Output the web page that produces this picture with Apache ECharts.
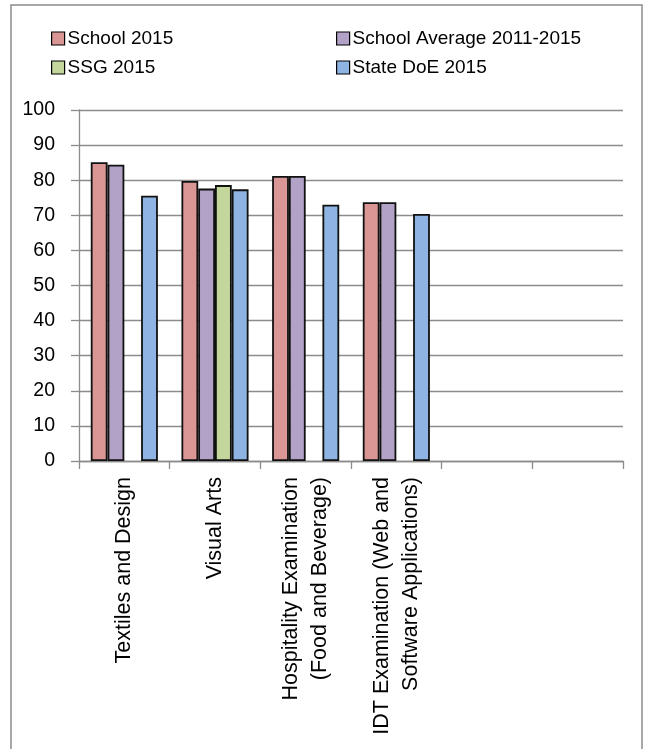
<!DOCTYPE html>
<html>
<head>
<meta charset="utf-8">
<script src="https://cdn.jsdelivr.net/npm/echarts@6/dist/echarts.min.js"></script>
<style>html,body{margin:0;padding:0;background:#fff;}#c{width:651px;height:749px;}</style>
</head>
<body>
<div id="c"></div>
<script>
var categories = ['Textiles and Design', 'Visual Arts', 'Hospitality Examination\n(Food and Beverage)', 'IDT Examination (Web and\nSoftware Applications)', '', ''];
var school2015 = [85.1, 79.8, 81.2, 73.7, null, null];
var schoolAvg = [84.4, 77.6, 81.2, 73.7, null, null];
var ssg2015 = [null, 78.6, null, null, null, null];
var stateDoE = [75.6, 77.4, 73.0, 70.4, null, null];
var yTicks = {min: 0, max: 100, interval: 10};

var seriesNames = ['School 2015', 'School Average 2011-2015', 'SSG 2015', 'State DoE 2015'];
var seriesData = [school2015, schoolAvg, ssg2015, stateDoE];
var colors = ['#D99694', '#B3A2C7', '#C3D69B', '#8EB4E3'];
var FONT = 'Liberation Sans';

var legendPos = [[51, 29], [336, 29], [51, 58], [336, 58]];
var legends = seriesNames.map(function (n, i) {
  return {
    data: [n], left: legendPos[i][0], top: legendPos[i][1], padding: 0,
    itemWidth: 13, itemHeight: 13, itemGap: 0,
    icon: 'rect',
    itemStyle: {borderColor: '#000', borderWidth: 1.2},
    textStyle: {fontFamily: FONT, fontSize: 19, color: '#000', padding: [0, 0, 0, -2]}
  };
});

var chart = echarts.init(document.getElementById('c'));
chart.setOption({
  animation: false,
  backgroundColor: '#fff',
  color: colors,
  legend: legends,
  graphic: [{
    type: 'rect', shape: {x: 11, y: 5, width: 631, height: 760},
    style: {fill: 'none', stroke: '#8c8c8c', lineWidth: 1.5}, silent: true
  }],
  grid: {left: 79, right: 28, top: 110, bottom: 288, containLabel: false},
  xAxis: {
    type: 'category', data: categories,
    axisLine: {lineStyle: {color: '#8c8c8c', width: 1.3}},
    axisTick: {show: true, length: 8, lineStyle: {color: '#8c8c8c', width: 1.3}},
    axisLabel: {interval: 0, rotate: 90, margin: 16, fontFamily: FONT, fontSize: 21.5, color: '#000', lineHeight: 29}
  },
  yAxis: {
    type: 'value', min: yTicks.min, max: yTicks.max, interval: yTicks.interval,
    axisLine: {show: true, lineStyle: {color: '#8c8c8c', width: 1.3}},
    axisTick: {show: true, length: 8, lineStyle: {color: '#8c8c8c', width: 1.3}},
    splitLine: {lineStyle: {color: '#8c8c8c', width: 1.3}},
    axisLabel: {margin: 24, fontFamily: FONT, fontSize: 19.5, color: '#000'}
  },
  series: seriesNames.map(function (n, i) {
    return {
      name: n, type: 'bar', data: seriesData[i],
      barGap: '0%', barCategoryGap: '26%',
      itemStyle: {color: colors[i], borderColor: '#111', borderWidth: 1.8}
    };
  })
});
</script>
</body>
</html>
